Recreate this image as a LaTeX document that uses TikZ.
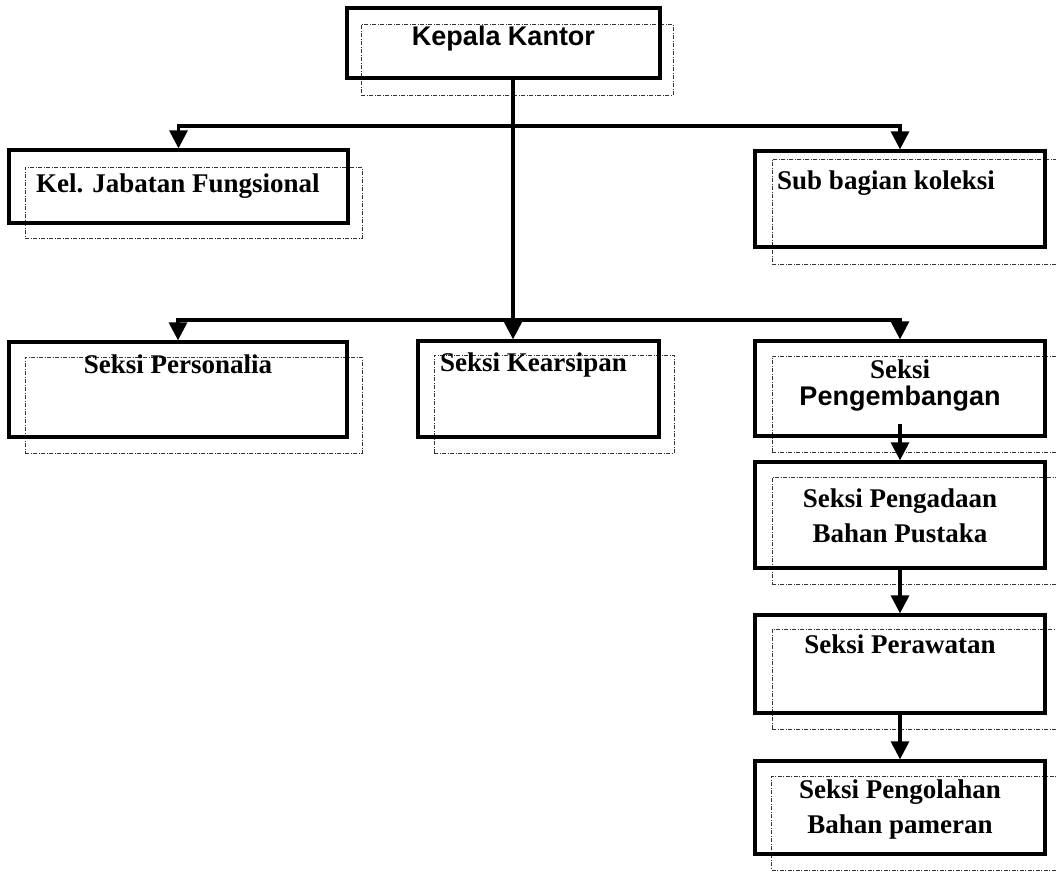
\documentclass[tikz,border=0pt]{standalone}
\usepackage{fontspec}
\setmainfont{Liberation Serif}
\newfontfamily\arialfont{Liberation Sans}
\usetikzlibrary{arrows.meta}
\begin{document}
\begin{tikzpicture}[x=1pt,y=-1pt,
  solidbox/.style={draw=black,line width=3.3pt,inner sep=0pt,minimum width=#1},
  shadowbox/.style={draw=black!80,line width=1pt,
    dash pattern=on 4pt off 1.5pt on 1pt off 1.5pt,inner sep=0pt,minimum width=#1},
  conn/.style={line width=3.2pt,draw=black},
  arr/.style={conn,-{Triangle[width=18pt,length=18pt]}},
  lbl/.style={inner sep=0pt,font=\fontsize{27}{35}\selectfont\bfseries},
  sanslbl/.style={inner sep=0pt,font=\fontsize{27}{35}\selectfont\arialfont\bfseries}]
\useasboundingbox (0,0) rectangle (1056,871);
\clip (0,0) rectangle (1056,871);

% offset outlines behind each unit
\node[shadowbox=312,minimum height=71] (kepala-s) at (517,59.5) {};
\node[shadowbox=337,minimum height=71] (jabatan-s) at (193.5,202.5) {};
\node[shadowbox=290,minimum height=105] (koleksi-s) at (917,211.5) {};
\node[shadowbox=337,minimum height=96] (personalia-s) at (193.5,405) {};
\node[shadowbox=240,minimum height=98] (kearsipan-s) at (554,404) {};
\node[shadowbox=290,minimum height=96] (pengembangan-s) at (917,404) {};
\node[shadowbox=290,minimum height=107] (pengadaan-s) at (917,530.5) {};
\node[shadowbox=290,minimum height=100] (perawatan-s) at (917,679) {};
\node[shadowbox=290,minimum height=94] (pengolahan-s) at (916.5,823) {};

% unit boxes
\node[solidbox=313,minimum height=70] (kepala) at (503.5,43) {};
\node[solidbox=339,minimum height=73] (jabatan) at (178.5,186.5) {};
\node[solidbox=290,minimum height=96] (koleksi) at (900,199) {};
\node[solidbox=338,minimum height=95] (personalia) at (178,389.5) {};
\node[solidbox=241,minimum height=96] (kearsipan) at (538.5,389) {};
\node[solidbox=290,minimum height=95] (pengembangan) at (900,388.5) {};
\node[solidbox=290,minimum height=106] (pengadaan) at (900,515) {};
\node[solidbox=290,minimum height=98] (perawatan) at (900,664) {};
\node[solidbox=290,minimum height=93] (pengolahan) at (900,807.5) {};

% labels
\node[sanslbl,anchor=base] (kepala-t) at (503.5,45) {Kepala Kantor};
\node[lbl,anchor=base west] (jabatan-t) at (36,192) {Kel. Jabatan Fungsional};
\node[lbl,anchor=base west] (koleksi-t) at (777,189) {Sub bagian koleksi};
\node[lbl,anchor=base] (personalia-t) at (178,373) {Seksi Personalia};
\node[lbl,anchor=base west] (kearsipan-t) at (440,371) {Seksi Kearsipan};
\node[lbl,anchor=base] (pengembangan-t1) at (900,378) {Seksi};
\node[sanslbl,anchor=base] (pengembangan-t2) at (900,405) {Pengembangan};
\node[lbl,anchor=base] (pengadaan-t1) at (900,507) {Seksi Pengadaan};
\node[lbl,anchor=base] (pengadaan-t2) at (900,542) {Bahan Pustaka};
\node[lbl,anchor=base] (perawatan-t) at (900,653) {Seksi Perawatan};
\node[lbl,anchor=base] (pengolahan-t1) at (900,798) {Seksi Pengolahan};
\node[lbl,anchor=base] (pengolahan-t2) at (900,833) {Bahan pameran};

% junctions on the main trunk
\coordinate (j1) at (513,126);
\coordinate (j2) at (513,320);

% connectors
\draw[conn] (kepala.south -| j1) -- (j1);
\draw[arr] (j1) -| (jabatan.north);
\draw[arr] (j1) -| (koleksi.north);
\draw[conn] (j1) -- (j2);
\draw[arr] (j2) -- (kearsipan.north -| j2);
\draw[arr] (j2) -| (personalia.north);
\draw[arr] (j2) -| (pengembangan.north);
\draw[arr] ([yshift=14pt]pengembangan.south) -- (pengadaan.north);
\draw[arr] (pengadaan.south) -- (perawatan.north);
\draw[arr] (perawatan.south) -- (pengolahan.north);
\end{tikzpicture}
\end{document}
